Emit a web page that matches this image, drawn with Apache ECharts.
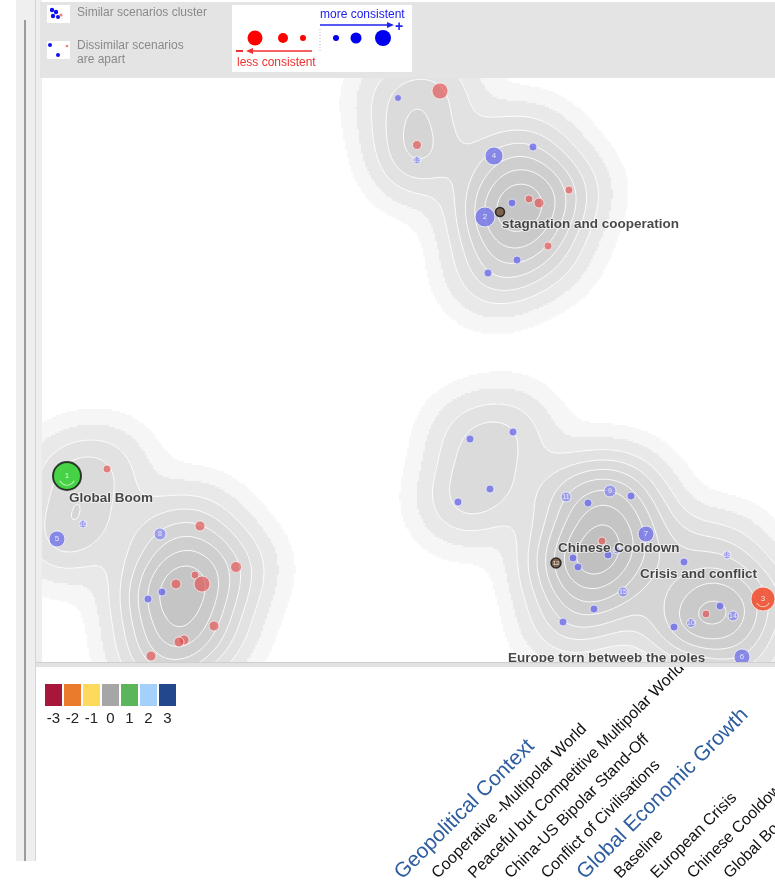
<!DOCTYPE html>
<html>
<head>
<meta charset="utf-8">
<script src="https://cdn.jsdelivr.net/npm/echarts@6/dist/echarts.min.js"></script>
<style>
  html, body { margin: 0; padding: 0; background: #fff; }
  #chart { width: 775px; height: 889px; }
</style>
</head>
<body>
<div id="chart"></div>
<script>
// 散点数据 [x, y, 直径]
const bluePoints = [
  [398, 98, 7], [533, 147, 8], [512, 203, 8], [488, 273, 8], [517, 260, 8],
  [162, 592, 8], [148, 599, 8], [513, 432, 8], [470, 439, 8], [490, 489, 8],
  [458, 502, 8], [631, 496, 8], [588, 503, 8], [608, 555, 8], [573, 558, 8],
  [578, 567, 8], [684, 562, 8], [594, 609, 8], [563, 622, 8], [674, 627, 8],
  [720, 606, 8]
];
// 带编号的蓝点 [x, y, 直径, 编号]
const numberedBlue = [
  [494, 156, 18, '4'], [485, 217, 20, '2'], [57, 539, 16, '5'],
  [646, 534, 16, '7'], [742, 657, 16, '6']
];
const lightBlue = [
  [417, 160, 8, '13'], [83, 524, 8, '16'], [160, 534, 12, '8'], [566, 497, 10, '11'],
  [610, 491, 12, '9'], [623, 592, 10, '15'], [691, 623, 9, '10'], [733, 616, 10, '14'],
  [727, 555, 8, '18'], [617, 550, 8, '17']
];
const redPoints = [
  [440, 91, 16], [417, 145, 9], [569, 190, 8], [529, 199, 8], [539, 203, 10],
  [548, 246, 8], [107, 469, 8], [200, 526, 10], [236, 567, 11], [195, 575, 8],
  [202, 584, 16], [176, 584, 10], [214, 626, 10], [184, 640, 10], [179, 642, 10],
  [151, 656, 10], [602, 541, 8], [706, 614, 8]
];
// 情景标记
const boomPoint = [[67, 476, 28, '1']];
const crisisPoint = [[763, 599, 24, '3']];
const ringPoints = [[500, 212, 9, ''], [556, 563, 10, '12']];

// 情景名称
const scenarioNames = ['Global Boom', 'stagnation and cooperation', 'Chinese Cooldown', 'Crisis and conflict', 'Europe torn betweeb the poles'];
const scenarioX = [67, 500, 556, 763, 742];
const scenarioY = [476, 212, 563, 599, 657];

// 颜色图例
const scaleLabels = ['-3', '-2', '-1', '0', '1', '2', '3'];
const scaleColors = ['#a8163a', '#ea7b2d', '#fdd95c', '#a6a6a6', '#5bb55b', '#a4d0fc', '#22478a'];

// 底部斜体标签
const factorLabels = [
  'Geopolitical Context', 'Cooperative -Multipolar World', 'Peaceful but Competitive Multipolar World',
  'China-US Bipolar Stand-Off', 'Conflict of Civilisations', 'Global Economic Growth',
  'Baseline', 'European Crisis', 'Chinese Cooldown', 'Global Boom'
];
const factorHeaders = ['Geopolitical Context', 'Global Economic Growth'];

// 标签偏移
const labelOffsets = {
  'Global Boom': [2, 22],
  'stagnation and cooperation': [2, 12],
  'Chinese Cooldown': [2, -15],
  'Crisis and conflict': [-123, -25],
  'Europe torn betweeb the poles': [-234, 1]
};

// ---- 密度估计 ----
const X0 = 42, X1 = 775, Y0 = 78, Y1 = 663, STEP = 2, BW = 30;
const levelFractions = [0.03, 0.08, 0.16, 0.26, 0.37, 0.49, 0.62, 0.76, 0.9];
const levelColors = ['#f6f6f6', '#e9e9e9', '#e2e2e2', '#dbdbdb', '#d5d5d5', '#cfcfcf', '#cacaca', '#c5c5c5', '#c0c0c0'];

const allPts = [].concat(bluePoints, numberedBlue, lightBlue, redPoints, boomPoint, crisisPoint, ringPoints);
const nx = Math.ceil((X1 - X0) / STEP) + 1;
const ny = Math.ceil((Y1 - Y0) / STEP) + 1;
const dens = [];
let dmax = 0;
for (let j = 0; j < ny; j++) {
  const row = [];
  const y = Y0 + j * STEP;
  for (let i = 0; i < nx; i++) {
    const x = X0 + i * STEP;
    let s = 0;
    for (const p of allPts) {
      const dx = x - p[0], dy = y - p[1];
      s += Math.exp(-(dx * dx + dy * dy) / (2 * BW * BW));
    }
    row.push(s);
    if (s > dmax) dmax = s;
  }
  dens.push(row);
}
const thresholds = levelFractions.map(f => f * dmax);
function levelOf(v) {
  let l = 0;
  while (l < thresholds.length && v >= thresholds[l]) l++;
  return l;
}

// 按行合并同级单元
const fillRuns = [];
for (let j = 0; j < ny; j++) {
  let i = 0;
  while (i < nx) {
    const l = levelOf(dens[j][i]);
    let k = i;
    while (k + 1 < nx && levelOf(dens[j][k + 1]) === l) k++;
    if (l > 0) {
      const y = Y0 + j * STEP;
      fillRuns.push([X0 + i * STEP - STEP / 2, X0 + k * STEP + STEP / 2, y - STEP / 2, y + STEP / 2, l]);
    }
    i = k + 1;
  }
}

// 等值线 (marching squares)
const msCases = {
  1: [['l', 'b']], 2: [['b', 'r']], 3: [['l', 'r']], 4: [['t', 'r']], 5: [['t', 'r'], ['l', 'b']],
  6: [['t', 'b']], 7: [['t', 'l']], 8: [['t', 'l']], 9: [['t', 'b']], 10: [['l', 't'], ['b', 'r']],
  11: [['t', 'r']], 12: [['l', 'r']], 13: [['b', 'r']], 14: [['l', 'b']]
};
function contourSegs(t) {
  const segs = [];
  for (let j = 0; j < ny - 1; j++) {
    for (let i = 0; i < nx - 1; i++) {
      const a = dens[j][i], b = dens[j][i + 1], c = dens[j + 1][i + 1], d = dens[j + 1][i];
      const idx = (a >= t ? 8 : 0) | (b >= t ? 4 : 0) | (c >= t ? 2 : 0) | (d >= t ? 1 : 0);
      if (idx === 0 || idx === 15) continue;
      const x = X0 + i * STEP, y = Y0 + j * STEP;
      const pt = {
        t: () => [x + STEP * (t - a) / (b - a), y],
        r: () => [x + STEP, y + STEP * (t - b) / (c - b)],
        b: () => [x + STEP * (t - d) / (c - d), y + STEP],
        l: () => [x, y + STEP * (t - a) / (d - a)]
      };
      for (const e of msCases[idx]) segs.push([pt[e[0]](), pt[e[1]]()]);
    }
  }
  return segs;
}
const contourLevels = [];
const contourData = {};
for (let k = 2; k < thresholds.length; k++) {
  contourLevels.push([k]);
  contourData[k] = contourSegs(thresholds[k]);
}

const chart = echarts.init(document.getElementById('chart'), null, { renderer: 'canvas' });

const pointLabel = {
  show: true, position: 'inside', fontSize: 8, color: '#fff',
  formatter: p => p.data[3]
};

// 笑脸弧线
const arcSymbol = 'path://M3,12 A7.5,7.5 0 0 0 17,12 L16,12 A6.5,6.5 0 0 1 4,12 Z';

const option = {
  animation: false,
  backgroundColor: '#fff',
  grid: [
    { left: 42, top: 78, width: 733, height: 585, outerBoundsMode: 'none' },
    { left: 44, top: 684, width: 133, height: 22, outerBoundsMode: 'none' },
    { left: 380, top: 876, width: 365, height: 1, outerBoundsMode: 'none' }
  ],
  xAxis: [
    { gridIndex: 0, type: 'value', min: X0, max: X1, show: false },
    {
      gridIndex: 1, type: 'category', data: scaleLabels,
      axisLine: { show: false }, axisTick: { show: false },
      axisLabel: { fontSize: 15, color: '#222', margin: 5, fontFamily: 'Liberation Sans' }
    },
    {
      gridIndex: 2, type: 'category', data: factorLabels, position: 'top',
      axisLine: { show: false }, axisTick: { show: false },
      axisLabel: {
        rotate: 45, margin: 0, interval: 0, hideOverlap: false, fontFamily: 'Liberation Sans',
        overflow: 'none', width: 400,
        formatter: v => factorHeaders.includes(v) ? '{h|' + v + '}' : '{n|' + v + '}',
        rich: {
          h: { fontSize: 21, color: '#2d5d9f', fontFamily: 'Liberation Sans' },
          n: { fontSize: 16, color: '#111', fontFamily: 'Liberation Sans' }
        }
      }
    }
  ],
  yAxis: [
    { gridIndex: 0, type: 'value', min: Y0, max: Y1, inverse: true, show: false },
    { gridIndex: 1, type: 'value', min: 0, max: 1, show: false },
    { gridIndex: 2, type: 'value', show: false }
  ],
  graphic: [
    // 背景框架
    { type: 'rect', z: -10, shape: { x: 16, y: 0, width: 20, height: 861 }, style: { fill: '#efefef' } },
    { type: 'rect', z: -9, shape: { x: 24, y: 20, width: 2, height: 841 }, style: { fill: '#9c9c9c' } },
    { type: 'rect', z: -9, shape: { x: 35, y: 0, width: 1, height: 861 }, style: { fill: '#d4d4d4' } },
    { type: 'rect', z: -9, shape: { x: 36, y: 0, width: 6, height: 663 }, style: { fill: '#eeeeee' } },
    { type: 'rect', z: -8, shape: { x: 40, y: 2, width: 735, height: 76 }, style: { fill: '#e4e4e4' } },
    { type: 'rect', z: 101, shape: { x: 36, y: 662, width: 739, height: 5 }, style: { fill: '#e2e2e2' } },
    { type: 'rect', z: 101, shape: { x: 36, y: 662, width: 739, height: 1 }, style: { fill: '#cfcfcf' } },
    // 左上说明
    { type: 'rect', shape: { x: 47, y: 5, width: 23, height: 18 }, style: { fill: '#fff' } },
    { type: 'circle', shape: { cx: 52, cy: 10, r: 2.2 }, style: { fill: '#1010ee' } },
    { type: 'circle', shape: { cx: 56, cy: 12, r: 2.2 }, style: { fill: '#1010ee' } },
    { type: 'circle', shape: { cx: 53, cy: 16, r: 2.2 }, style: { fill: '#1010ee' } },
    { type: 'circle', shape: { cx: 58, cy: 17, r: 2 }, style: { fill: '#1010ee' } },
    { type: 'circle', shape: { cx: 61, cy: 15, r: 1.6 }, style: { fill: '#f08080' } },
    { type: 'text', style: { x: 77, y: 13, text: 'Similar scenarios cluster', fill: '#8a8a8a', font: '12px "Liberation Sans"', verticalAlign: 'middle' } },
    { type: 'rect', shape: { x: 47, y: 41, width: 23, height: 18 }, style: { fill: '#fff' } },
    { type: 'circle', shape: { cx: 50, cy: 45, r: 2 }, style: { fill: '#1010ee' } },
    { type: 'circle', shape: { cx: 58, cy: 55, r: 2 }, style: { fill: '#1010ee' } },
    { type: 'circle', shape: { cx: 67, cy: 46, r: 1.3 }, style: { fill: '#f08080' } },
    { type: 'text', style: { x: 77, y: 46, text: 'Dissimilar scenarios', fill: '#8a8a8a', font: '12px "Liberation Sans"', verticalAlign: 'middle' } },
    { type: 'text', style: { x: 77, y: 60, text: 'are apart', fill: '#8a8a8a', font: '12px "Liberation Sans"', verticalAlign: 'middle' } },
    // 一致性说明框
    { type: 'rect', shape: { x: 232, y: 5, width: 180, height: 67 }, style: { fill: '#fff' } },
    { type: 'text', style: { x: 320, y: 15, text: 'more consistent', fill: '#2020f0', font: '12px "Liberation Sans"', verticalAlign: 'middle' } },
    { type: 'line', shape: { x1: 320, y1: 25, x2: 390, y2: 25 }, style: { stroke: '#2020f0', lineWidth: 1.5 } },
    { type: 'polygon', shape: { points: [[394, 25], [387, 22], [387, 28]] }, style: { fill: '#2020f0' } },
    { type: 'text', style: { x: 399, y: 27, text: '+', fill: '#2020f0', font: 'bold 14px "Liberation Sans"', align: 'center', verticalAlign: 'middle' } },
    { type: 'line', shape: { x1: 320, y1: 29, x2: 320, y2: 52 }, style: { stroke: '#bbb', lineWidth: 1, lineDash: [1, 2] } },
    { type: 'circle', shape: { cx: 255, cy: 38, r: 7.5 }, style: { fill: '#f00' } },
    { type: 'circle', shape: { cx: 283, cy: 38, r: 5 }, style: { fill: '#f00' } },
    { type: 'circle', shape: { cx: 303, cy: 38, r: 3 }, style: { fill: '#f00' } },
    { type: 'circle', shape: { cx: 336, cy: 38, r: 3 }, style: { fill: '#0000f0' } },
    { type: 'circle', shape: { cx: 356, cy: 38, r: 5.5 }, style: { fill: '#0000f0' } },
    { type: 'circle', shape: { cx: 383, cy: 38, r: 8 }, style: { fill: '#0000f0' } },
    { type: 'line', shape: { x1: 250, y1: 51, x2: 312, y2: 51 }, style: { stroke: '#f03030', lineWidth: 1.5 } },
    { type: 'polygon', shape: { points: [[246, 51], [253, 48], [253, 54]] }, style: { fill: '#f03030' } },
    { type: 'rect', shape: { x: 236, y: 50, width: 7, height: 2 }, style: { fill: '#f03030' } },
    { type: 'text', style: { x: 237, y: 63, text: 'less consistent', fill: '#f03030', font: '12px "Liberation Sans"', verticalAlign: 'middle' } }
  ],
  series: [
    {
      type: 'custom', xAxisIndex: 0, yAxisIndex: 0, clip: true, z: 1, progressive: 0,
      data: fillRuns, encode: { x: [0, 1], y: [2, 3] }, silent: true,
      renderItem: (params, api) => {
        const p0 = api.coord([api.value(0), api.value(2)]);
        const p1 = api.coord([api.value(1), api.value(3)]);
        return {
          type: 'rect',
          shape: {
            x: Math.min(p0[0], p1[0]), y: Math.min(p0[1], p1[1]),
            width: Math.abs(p1[0] - p0[0]) + 0.6, height: Math.abs(p1[1] - p0[1]) + 0.6
          },
          style: { fill: levelColors[api.value(4) - 1] }
        };
      }
    },
    {
      type: 'custom', xAxisIndex: 0, yAxisIndex: 0, clip: true, z: 2, progressive: 0,
      data: contourLevels, silent: true,
      renderItem: (params, api) => {
        const segs = contourData[api.value(0)];
        let d = '';
        for (const s of segs) {
          const a = api.coord(s[0]), b = api.coord(s[1]);
          d += 'M' + a[0].toFixed(1) + ' ' + a[1].toFixed(1) + 'L' + b[0].toFixed(1) + ' ' + b[1].toFixed(1);
        }
        return {
          type: 'path', shape: { pathData: d },
          style: { stroke: 'rgba(255,255,255,0.85)', fill: null, lineWidth: 1 }
        };
      }
    },
    {
      type: 'scatter', xAxisIndex: 0, yAxisIndex: 0, z: 3, data: redPoints,
      symbolSize: v => v[2],
      itemStyle: { color: 'rgba(228,72,72,0.78)', borderColor: 'rgba(255,255,255,0.8)', borderWidth: 1 }
    },
    {
      type: 'scatter', xAxisIndex: 0, yAxisIndex: 0, z: 3, data: bluePoints,
      symbolSize: v => v[2],
      itemStyle: { color: 'rgba(88,88,236,0.85)', borderColor: 'rgba(255,255,255,0.8)', borderWidth: 1 }
    },
    {
      type: 'scatter', xAxisIndex: 0, yAxisIndex: 0, z: 3, data: lightBlue,
      symbolSize: v => v[2],
      itemStyle: { color: 'rgba(130,130,240,0.88)', borderColor: 'rgba(255,255,255,0.9)', borderWidth: 1 },
      label: Object.assign({}, pointLabel, { fontSize: 7 })
    },
    {
      type: 'scatter', xAxisIndex: 0, yAxisIndex: 0, z: 3, data: numberedBlue,
      symbolSize: v => v[2],
      itemStyle: { color: 'rgba(104,104,236,0.9)', borderColor: 'rgba(255,255,255,0.9)', borderWidth: 1 },
      label: pointLabel
    },
    {
      type: 'scatter', xAxisIndex: 0, yAxisIndex: 0, z: 4, data: boomPoint,
      symbolSize: v => v[2],
      itemStyle: { color: '#1fd01f', borderColor: '#111', borderWidth: 2 },
      label: pointLabel
    },
    {
      type: 'scatter', xAxisIndex: 0, yAxisIndex: 0, z: 4, data: crisisPoint,
      symbolSize: v => v[2],
      itemStyle: { color: '#f2401e', borderColor: 'rgba(255,255,255,0.9)', borderWidth: 1 },
      label: pointLabel
    },
    {
      type: 'scatter', xAxisIndex: 0, yAxisIndex: 0, z: 4, silent: true,
      data: boomPoint.concat(crisisPoint),
      symbol: arcSymbol,
      symbolSize: v => [v[2] * 0.55, v[2] * 0.17],
      symbolOffset: [0, '150%'],
      itemStyle: { color: '#fff' }
    },
    {
      type: 'scatter', xAxisIndex: 0, yAxisIndex: 0, z: 4, data: ringPoints,
      symbolSize: v => v[2],
      itemStyle: { color: '#6a4a30', borderColor: '#111', borderWidth: 1.5 },
      label: Object.assign({}, pointLabel, { fontSize: 6 })
    },
    {
      type: 'scatter', xAxisIndex: 0, yAxisIndex: 0, z: 5, silent: true,
      data: scenarioNames.map((n, i) => ({ name: n, value: [scenarioX[i], scenarioY[i]] })),
      symbolSize: 1, itemStyle: { color: 'rgba(0,0,0,0)' },
      label: {
        show: true, position: 'inside', align: 'left', verticalAlign: 'middle',
        formatter: p => p.name,
        fontFamily: 'Liberation Sans', fontWeight: 'bold', fontSize: 13.5, color: '#1a1a1a',
        textBorderColor: 'rgba(255,255,255,0.7)', textBorderWidth: 2
      },
      labelLayout: p => {
        const off = labelOffsets[scenarioNames[p.dataIndex]];
        return { x: p.rect.x + p.rect.width / 2 + off[0], y: p.rect.y + p.rect.height / 2 + off[1], align: 'left', verticalAlign: 'middle' };
      }
    },
    {
      type: 'bar', xAxisIndex: 1, yAxisIndex: 1, barWidth: 17,
      data: scaleColors.map(c => ({ value: 1, itemStyle: { color: c } }))
    }
  ]
};
chart.setOption(option);
</script>
</body>
</html>
